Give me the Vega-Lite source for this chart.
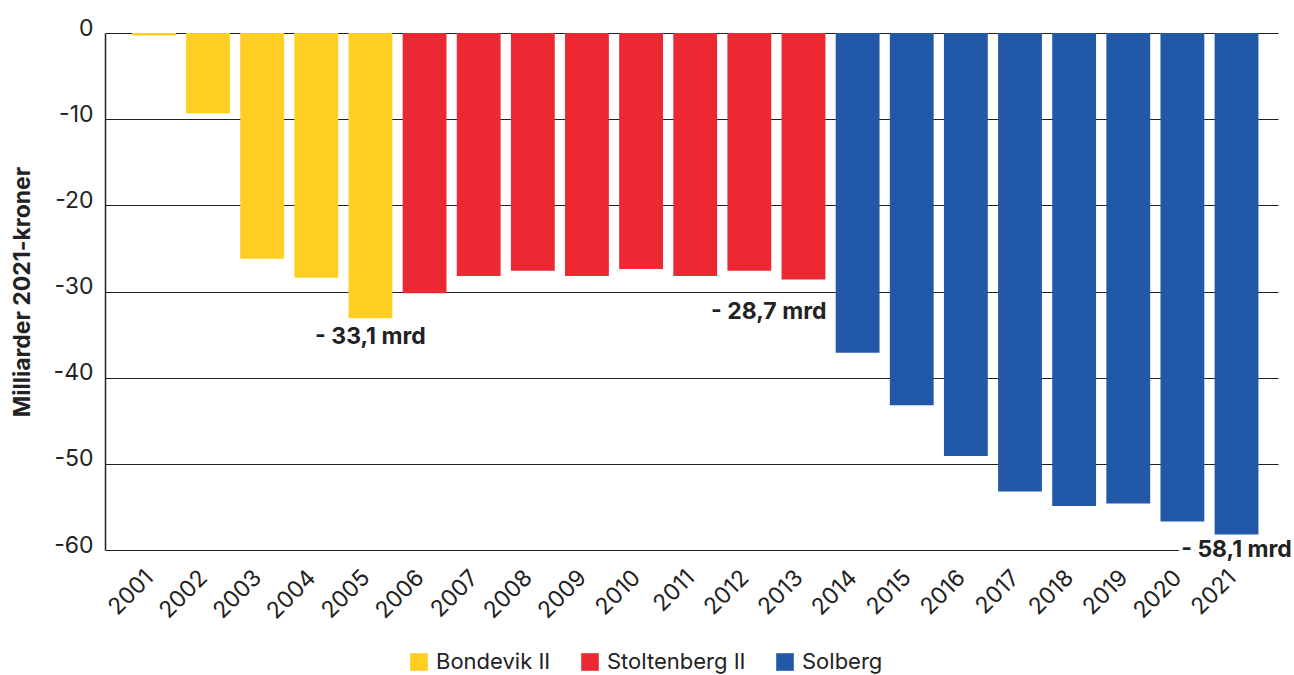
{
  "$schema": "https://vega.github.io/schema/vega-lite/v6.json",
  "autosize": {"type": "none"},
  "width": 1173,
  "height": 517,
  "padding": {"left": 105, "top": 33, "right": 16, "bottom": 125},
  "background": "white",
  "config": {
    "font": "Inter",
    "view": {"stroke": null},
    "axis": {"labelColor": "#222222", "titleColor": "#222222"}
  },
  "data": {
    "values": [
      {"year": "2001", "value": -0.3, "gov": "Bondevik II", "label": ""},
      {"year": "2002", "value": -9.3, "gov": "Bondevik II", "label": ""},
      {"year": "2003", "value": -26.2, "gov": "Bondevik II", "label": ""},
      {"year": "2004", "value": -28.4, "gov": "Bondevik II", "label": ""},
      {"year": "2005", "value": -33.1, "gov": "Bondevik II", "label": "- 33,1 mrd"},
      {"year": "2006", "value": -30.2, "gov": "Stoltenberg II", "label": ""},
      {"year": "2007", "value": -28.2, "gov": "Stoltenberg II", "label": ""},
      {"year": "2008", "value": -27.6, "gov": "Stoltenberg II", "label": ""},
      {"year": "2009", "value": -28.2, "gov": "Stoltenberg II", "label": ""},
      {"year": "2010", "value": -27.4, "gov": "Stoltenberg II", "label": ""},
      {"year": "2011", "value": -28.2, "gov": "Stoltenberg II", "label": ""},
      {"year": "2012", "value": -27.6, "gov": "Stoltenberg II", "label": ""},
      {"year": "2013", "value": -28.6, "gov": "Stoltenberg II", "label": "- 28,7 mrd"},
      {"year": "2014", "value": -37.1, "gov": "Solberg", "label": ""},
      {"year": "2015", "value": -43.2, "gov": "Solberg", "label": ""},
      {"year": "2016", "value": -49.1, "gov": "Solberg", "label": ""},
      {"year": "2017", "value": -53.2, "gov": "Solberg", "label": ""},
      {"year": "2018", "value": -54.9, "gov": "Solberg", "label": ""},
      {"year": "2019", "value": -54.6, "gov": "Solberg", "label": ""},
      {"year": "2020", "value": -56.7, "gov": "Solberg", "label": ""},
      {"year": "2021", "value": -58.2, "gov": "Solberg", "label": "- 58,1 mrd"}
    ]
  },
  "encoding": {
    "x": {
      "field": "year", "type": "ordinal",
      "scale": {"paddingInner": 0.19, "paddingOuter": 0.43, "align": 0.58},
      "axis": {
        "title": null, "labelAngle": -45, "labelAlign": "right", "labelBaseline": "top",
        "labelFontSize": 23, "ticks": false, "domain": false, "labelPadding": 16, "labelOffset": -12
      }
    },
    "y": {
      "field": "value", "type": "quantitative",
      "scale": {"domain": [-60, 0], "nice": false},
      "axis": {
        "title": "Milliarder 2021-kroner", "titleFontSize": 23, "titleFontWeight": "bold",
        "titlePadding": 19, "labelFontSize": 23, "labelPadding": 12, "ticks": false,
        "values": [0, -10, -20, -30, -40, -50, -60],
        "labelExpr": "toString(datum.value)",
        "domain": true, "domainColor": "#222222", "domainWidth": 1.5,
        "grid": true, "gridColor": "#222222", "gridWidth": 1.2, "gridOpacity": 1,
        "labelBaseline": "alphabetic", "labelOffset": 2
      }
    }
  },
  "layer": [
    {
      "mark": {"type": "bar"},
      "encoding": {
        "color": {
          "field": "gov", "type": "nominal",
          "scale": {"domain": ["Bondevik II", "Stoltenberg II", "Solberg"], "range": ["#FECE22", "#EC2833", "#2159A8"]},
          "legend": {
            "title": null, "orient": "none", "direction": "horizontal",
            "legendX": 303, "legendY": 618, "symbolType": "square", "symbolSize": 310,
            "symbolStrokeWidth": 0, "labelFontSize": 22, "labelColor": "#222222",
            "columnPadding": 28, "labelOffset": 6
          }
        }
      }
    },
    {
      "transform": [{"filter": "datum.year == '2021'"}],
      "mark": {"type": "text", "fontSize": 23, "fontWeight": "bold", "dy": 16, "baseline": "middle", "stroke": "white", "strokeWidth": 8, "align": "center", "dx": 0},
      "encoding": {"text": {"field": "label"}}
    },
    {
      "transform": [{"filter": "datum.year == '2021'"}],
      "mark": {"type": "text", "fontSize": 23, "fontWeight": "bold", "dy": 16, "baseline": "middle", "color": "#222222", "align": "center", "dx": 0},
      "encoding": {"text": {"field": "label"}}
    },
    {
      "transform": [{"filter": "datum.year == '2005'"}],
      "mark": {"type": "text", "fontSize": 23, "fontWeight": "bold", "dy": 19, "baseline": "middle", "color": "#222222", "align": "center"},
      "encoding": {"text": {"field": "label"}}
    },
    {
      "transform": [{"filter": "datum.year == '2013'"}],
      "mark": {"type": "text", "fontSize": 23, "fontWeight": "bold", "dy": 33, "dx": 23, "baseline": "middle", "color": "#222222", "align": "right"},
      "encoding": {"text": {"field": "label"}}
    }
  ]
}
